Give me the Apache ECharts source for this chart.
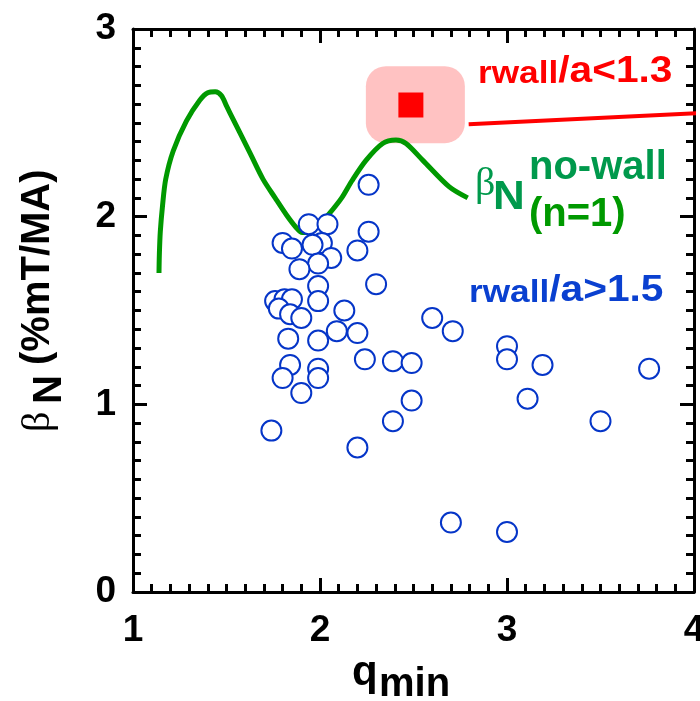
<!DOCTYPE html>
<html>
<head>
<meta charset="utf-8">
<script src="https://cdn.jsdelivr.net/npm/echarts@6/dist/echarts.min.js"></script>
<style>
  html, body { margin: 0; padding: 0; background: #fff; }
  #chart { width: 700px; height: 701px; }
</style>
</head>
<body>
<div id="chart"></div>
<script>
// q_min range and beta_N range
const xRange = [1, 4];
const yRange = [0, 3];

// discharges with a distant wall (r_wall/a > 1.5): [q_min, beta_N]
const farWallShots = [
  [1.94, 1.96], [2.04, 1.96], [2.26, 2.17], [2.26, 1.92], [1.80, 1.86],
  [1.85, 1.83], [2.01, 1.86], [1.96, 1.85], [2.20, 1.82], [2.06, 1.78],
  [1.99, 1.75], [1.89, 1.72], [2.30, 1.64], [1.99, 1.63], [1.76, 1.55],
  [1.81, 1.56], [1.85, 1.56], [1.99, 1.55], [1.78, 1.51], [1.84, 1.48],
  [1.90, 1.46], [2.13, 1.50], [2.09, 1.39], [2.20, 1.38], [1.83, 1.35],
  [1.99, 1.34], [2.24, 1.24], [2.39, 1.23], [2.49, 1.22], [1.84, 1.21],
  [1.99, 1.19], [1.99, 1.14], [1.80, 1.14], [1.90, 1.06], [2.49, 1.02],
  [2.39, 0.91], [1.74, 0.86], [2.20, 0.77], [2.60, 1.46], [2.71, 1.39],
  [3.00, 1.31], [3.00, 1.24], [3.19, 1.21], [3.76, 1.19], [3.11, 1.03],
  [3.50, 0.91], [2.70, 0.37], [3.00, 0.32]
];

// ideal no-wall n=1 stability limit
const noWallLimit = [
  [1.139, 1.70], [1.141, 1.80], [1.146, 1.92], [1.158, 2.06], [1.175, 2.20],
  [1.215, 2.35], [1.286, 2.51], [1.357, 2.62], [1.40, 2.66], [1.44, 2.665],
  [1.473, 2.645], [1.50, 2.59], [1.535, 2.52], [1.57, 2.45], [1.63, 2.33],
  [1.695, 2.20], [1.76, 2.10], [1.82, 2.01], [1.87, 1.945], [1.905, 1.915],
  [1.94, 1.915], [1.99, 1.95], [2.044, 2.009], [2.116, 2.10], [2.17, 2.19],
  [2.246, 2.30], [2.335, 2.39], [2.406, 2.408], [2.46, 2.39], [2.55, 2.30],
  [2.69, 2.16], [2.79, 2.10]
];

// close-fitting wall discharge (r_wall/a < 1.3)
const closeWallShot = [[2.486, 2.595]];
const closeWallHalo = [[2.51, 2.597]];
const closeWallPointer = [[2.795, 2.493], [4.04, 2.552]];

const FONT = 'Liberation Sans, Arial, Helvetica, sans-serif';
const SERIF = 'Liberation Serif, Times New Roman, serif';

function makeAxis(kind, position, showLabels) {
  const range = kind === 'x' ? xRange : yRange;
  return {
    type: 'value',
    show: true,
    position: position,
    min: range[0],
    max: range[1],
    interval: 1,
    axisLine: { show: true, onZero: false, lineStyle: { color: '#000', width: 3 } },
    axisTick: { show: true, inside: true, length: 14, lineStyle: { color: '#000', width: 3 } },
    minorTick: { show: true, splitNumber: 10, length: 8, lineStyle: { color: '#000', width: 3 } },
    splitLine: { show: false },
    minorSplitLine: { show: false },
    axisLabel: {
      show: showLabels,
      color: '#000',
      fontFamily: FONT,
      fontWeight: 'bold',
      fontSize: 37,
      margin: kind === 'x' ? 20 : 17
    }
  };
}

function textEl(x, y, text, opts) {
  return {
    type: 'text',
    x: x,
    y: y,
    rotation: opts.rotation || 0,
    scaleX: opts.scaleX || 1,
    z: 100,
    style: Object.assign({
      text: text,
      fill: opts.fill || '#000',
      fontFamily: opts.family || FONT,
      fontWeight: opts.weight || 'bold',
      fontSize: opts.size || 37,
      align: 'left',
      textAlign: 'left',
      verticalAlign: 'bottom',
      textVerticalAlign: 'bottom'
    }, opts.style || {})
  };
}

function labelRich(color) {
  return {
    r: { fontSize: 32, fontWeight: 'bold', fontFamily: FONT, fill: color, verticalAlign: 'bottom' },
    s: { fontSize: 32, fontWeight: 'bold', fontFamily: FONT, fill: color, verticalAlign: 'bottom' },
    b: { fontSize: 37, fontWeight: 'bold', fontFamily: FONT, fill: color, verticalAlign: 'bottom' }
  };
}

const chart = echarts.init(document.getElementById('chart'), null, { renderer: 'canvas' });

chart.setOption({
  animation: false,
  backgroundColor: '#fff',
  grid: { left: 133, right: 6, top: 29, bottom: 109, containLabel: false, outerBoundsMode: 'none' },
  xAxis: [makeAxis('x', 'bottom', true), makeAxis('x', 'top', false)],
  yAxis: [makeAxis('y', 'left', true), makeAxis('y', 'right', false)],
  series: [
    {
      type: 'custom',
      name: 'halo',
      data: closeWallHalo,
      z: 1,
      renderItem: function (params, api) {
        const p = api.coord([api.value(0), api.value(1)]);
        return {
          type: 'rect',
          shape: { x: p[0] - 49.5, y: p[1] - 38.5, width: 99, height: 77, r: 20 },
          style: { fill: '#ffc2c2' }
        };
      }
    },
    {
      type: 'line',
      name: 'no-wall limit',
      data: noWallLimit,
      showSymbol: false,
      smooth: 0.3,
      z: 2,
      lineStyle: { color: '#009900', width: 5 }
    },
    {
      type: 'scatter',
      name: 'r_wall/a>1.5',
      data: farWallShots,
      symbol: 'circle',
      symbolSize: 20,
      z: 3,
      itemStyle: { color: '#fff', borderColor: '#0535c8', borderWidth: 2, opacity: 1 }
    },
    {
      type: 'scatter',
      name: 'r_wall/a<1.3',
      data: closeWallShot,
      symbol: 'rect',
      symbolSize: 25,
      z: 4,
      itemStyle: { color: '#ff0000', opacity: 1 }
    },
    {
      type: 'line',
      name: 'pointer',
      data: closeWallPointer,
      showSymbol: false,
      clip: false,
      z: 4,
      lineStyle: { color: '#ff0000', width: 4 }
    },
    {
      // binds the mirrored top/right frame axes
      type: 'scatter',
      name: 'frame',
      xAxisIndex: 1,
      yAxisIndex: 1,
      data: [],
      silent: true
    }
  ],
  graphic: [
    // annotation: close wall
    textEl(478, 90, '{r|r}{s|wall}{b|/a<1.3}', {
      fill: '#ff0000', scaleX: 1.1,
      style: { rich: labelRich('#ff0000') }
    }),
    // annotation: distant wall
    textEl(469, 309, '{r|r}{s|wall}{b|/a>1.5}', {
      fill: '#0a40d0', scaleX: 1.1,
      style: { rich: labelRich('#0a40d0') }
    }),
    // annotation: no-wall beta limit
    textEl(475, 204, 'β', { fill: '#00994c', family: SERIF, weight: 'normal', size: 40 }),
    textEl(493, 218, 'N', { fill: '#00994c', size: 40, scaleX: 1.1 }),
    textEl(529, 188, 'no-wall', { fill: '#00994c', size: 40 }),
    textEl(529, 235, '(n=1)', { fill: '#009900', size: 40 }),
    // y axis title
    textEl(58, 432, 'β', { family: SERIF, weight: 'normal', size: 40, rotation: Math.PI / 2 }),
    textEl(70, 404, 'N', { size: 40, rotation: Math.PI / 2 }),
    textEl(58, 365, '(%mT/MA)', { size: 40, rotation: Math.PI / 2 }),
    // x axis title
    textEl(352, 694, 'q', { size: 42 }),
    textEl(379, 705, 'min', { size: 40 })
  ]
});
</script>
</body>
</html>
